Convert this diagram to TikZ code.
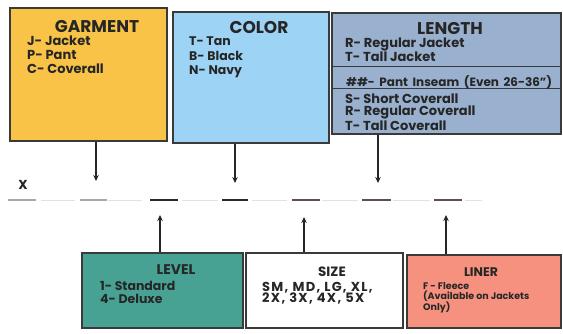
\documentclass[tikz,border=0pt]{standalone}
\usepackage{fontspec}
\setmainfont{Poppins}
\usetikzlibrary{arrows.meta,positioning}

\definecolor{garmentfill}{HTML}{F8C346}
\definecolor{colorfill}{HTML}{9DD4F5}
\definecolor{lengthfill}{HTML}{99B1CF}
\definecolor{levelfill}{HTML}{48A294}
\definecolor{linerfill}{HTML}{F6917F}
\definecolor{edge}{HTML}{3A3A3A}
\definecolor{ink}{HTML}{262626}
\definecolor{slotgray}{HTML}{A8A8A8}
\definecolor{slotdark}{HTML}{2E2A2A}
\definecolor{slotbrown}{HTML}{5E5050}
\definecolor{slotlight}{HTML}{E2E2E2}

\begin{document}
\begin{tikzpicture}[x=1pt,y=-1pt,>={Stealth[length=6pt,width=5.5pt]},
  box/.style={draw=edge,line width=1.3pt,inner sep=0pt},
  title/.style={font=\bfseries\fontsize{17}{17}\selectfont,text=ink,inner sep=0pt},
  items/.style={font=\bfseries\fontsize{12.5}{14}\selectfont,text=ink,align=left,inner sep=0pt,anchor=north west},
  feed/.style={->,draw=ink,line width=1.3pt}]
\useasboundingbox (0,0) rectangle (563,333);

% top boxes
\node[box,fill=garmentfill,minimum width=157pt,minimum height=133pt] (garment) at (88.5,74.5) {};
\node[box,fill=colorfill,minimum width=156pt,minimum height=131pt] (color) at (251,77.5) {};
\node[box,fill=lengthfill,minimum width=229pt,minimum height=121pt] (length) at (446.5,73.5) {};
\draw[edge,line width=1.3pt] ([yshift=-54pt]length.north west) -- ([yshift=-54pt]length.north east);
\draw[edge,line width=1.3pt] ([yshift=-76pt]length.north west) -- ([yshift=-76pt]length.north east);

\node[title] (garmenttitle) at (97,27) {GARMENT};
\node[items,font=\bfseries\fontsize{13}{14}\selectfont] (garmentitems) at (27,36) {J- Jacket\\P- Pant\\C- Coverall};
\node[title] (colortitle) at (259,28) {COLOR};
\node[items,font=\bfseries\fontsize{12.5}{14.5}\selectfont] (coloritems) at (189,37) {T- Tan\\B- Black\\N- Navy};
\node[title] (lengthtitle) at (450,29) {LENGTH};
\node[items,font=\bfseries\fontsize{13}{14}\selectfont] (lengthjacket) at (345,37.5) {R- Regular Jacket\\T- Tall Jacket};
\node[items,font=\bfseries\fontsize{12}{14}\selectfont] (lengthpant) at (346,75.5) {\makebox[206pt][s]{\#\#- Pant Inseam (Even 26-36\char"22)}};
\node[items,font=\bfseries\fontsize{13}{12}\selectfont] (lengthcoverall) at (345,94) {S- Short Coverall\\R- Regular Coverall\\T- Tall Coverall};

% bottom boxes
\node[box,fill=levelfill,minimum width=161pt,minimum height=75pt] (level) at (162.5,290.5) {};
\node[box,fill=white,minimum width=157pt,minimum height=75pt] (size) at (324.5,290.5) {};
\node[box,fill=linerfill,minimum width=154pt,minimum height=73pt] (liner) at (484,291.5) {};

\node[title,font=\bfseries\fontsize{14}{14}\selectfont] (leveltitle) at (176,270) {LEVEL};
\node[items,font=\bfseries\fontsize{12.5}{13}\selectfont] (levelitems) at (100,281) {1- Standard\\4- Deluxe};
\node[title,font=\bfseries\fontsize{13.5}{13.5}\selectfont] (sizetitle) at (332,272) {SIZE};
\node[items,font=\bfseries\fontsize{13}{11.5}\selectfont\addfontfeature{LetterSpace=10}] (sizeitems) at (262,282) {SM, MD, LG, XL,\\2X, 3X, 4X, 5X};
\node[title,font=\bfseries\fontsize{12.5}{12.5}\selectfont] (linertitle) at (481,272) {LINER};
\node[items,font=\bfseries\fontsize{9.5}{10}\selectfont] (lineritems) at (423,282) {F - Fleece\\(Available on Jackets\\Only)};

% the code line
\node[font=\bfseries\fontsize{13}{13}\selectfont,text=ink,inner sep=0pt] (xmark) at (23,185) {X};
\foreach \a/\b/\c/\w in {8/36/slotgray/2.5, 80/107/slotgray/2.5, 150/178/slotdark/2,
  222/248/slotdark/2, 292/320/slotbrown/1.6, 362/391/slotbrown/1.6, 434/462/slotbrown/1.8}
  \draw[\c,line width=\w pt] (\a,200) -- (\b,200);
\foreach \a/\b in {41/75,108/142,182/218,252/287,322/358,393/430,465/482}
  \draw[slotlight,line width=1pt] (\a,200) -- (\b,200);

% arrows
\coordinate (garmenttip) at (96,181);
\coordinate (colortip) at (235,183);
\coordinate (lengthtip) at (378,183);
\coordinate (leveltip) at (160,215);
\coordinate (sizetip) at (304,217);
\coordinate (linertip) at (446,215);
\draw[feed] (garment.south -| garmenttip) -- (garmenttip);
\draw[feed] (color.south -| colortip) -- (colortip);
\draw[feed] (length.south -| lengthtip) -- (lengthtip);
\draw[feed] (level.north -| leveltip) -- (leveltip);
\draw[feed] (size.north -| sizetip) -- (sizetip);
\draw[feed] (liner.north -| linertip) -- (linertip);
\end{tikzpicture}
\end{document}
